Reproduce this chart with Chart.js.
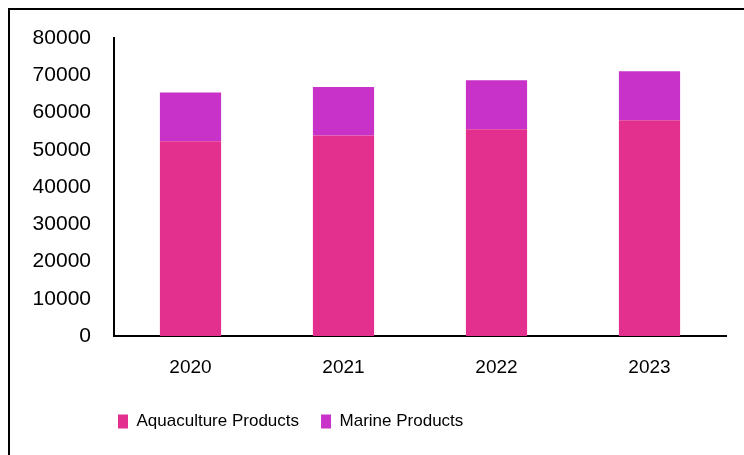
<!DOCTYPE html>
<html>
<head>
<meta charset="utf-8">
<script src="https://cdn.jsdelivr.net/npm/chart.js@4/dist/chart.umd.min.js"></script>
<style>
    html, body { margin: 0; padding: 0; background: #fff; }
    #wrap { width: 744px; height: 455px; }
</style>
</head>
<body>
<div id="wrap"><canvas id="productsChart" width="744" height="455"></canvas></div>
<script>
const years = ['2020', '2021', '2022', '2023'];
const aquacultureProducts = [52300, 53850, 55500, 57900];
const marineProducts = [13100, 13000, 13150, 13150];
const yMax = 80000;
const yStep = 10000;

// frame line on the left and top edge of the page,
// and the legend pushed in under the plot
const framePlugin = {
    id: 'frame',
    afterLayout: (chart) => {
        chart.legend.left = 96;
    },
    beforeDraw: (chart) => {
        const ctx = chart.ctx;
        ctx.save();
        ctx.strokeStyle = '#000';
        ctx.lineWidth = 2;
        ctx.beginPath();
        ctx.moveTo(9, 455);
        ctx.lineTo(9, 9);
        ctx.lineTo(744, 9);
        ctx.stroke();
        ctx.restore();
    }
};

const labelFont = "'Liberation Sans', Arial, sans-serif";

const productsData = {
    labels: years,
    datasets: [{
            label: 'Aquaculture Products',
            backgroundColor: '#E3308E',
            data: aquacultureProducts,
            borderWidth: 0,
        },
        {
            label: 'Marine Products',
            backgroundColor: '#C832C8',
            data: marineProducts,
            borderWidth: 0,
        }
    ]
};

const productsConfig = {
    type: 'bar',
    data: productsData,
    plugins: [framePlugin],
    options: {
        responsive: false,
        animation: false,
        devicePixelRatio: 1,
        layout: {
            padding: { left: 14, right: 18, top: 38, bottom: 15 }
        },
        datasets: {
            bar: {
                categoryPercentage: 0.4,
                barPercentage: 1,
            }
        },
        scales: {
            x: {
                stacked: true,
                grid: { display: false, drawTicks: false },
                border: { display: true, color: '#000', width: 2 },
                ticks: {
                    color: '#000',
                    padding: 20,
                    font: { family: labelFont, size: 19 },
                },
                afterFit: (scale) => { scale.height = 55; }
            },
            y: {
                stacked: true,
                min: 0,
                max: yMax,
                grid: { display: false, drawTicks: false },
                border: { display: true, color: '#000', width: 2 },
                ticks: {
                    stepSize: yStep,
                    color: '#000',
                    padding: 23,
                    font: { family: labelFont, size: 21 },
                    callback: (value) => String(value),
                },
                afterFit: (scale) => { scale.width = 100; }
            }
        },
        plugins: {
            legend: {
                position: 'bottom',
                align: 'start',
                labels: {
                    boxWidth: 10,
                    boxHeight: 14,
                    padding: 22,
                    color: '#000',
                    font: { family: labelFont, size: 17 },
                }
            },
            tooltip: { enabled: false },
            title: { display: false }
        }
    }
};

const productsChart = new Chart(
    document.getElementById('productsChart'),
    productsConfig
);
</script>
</body>
</html>
